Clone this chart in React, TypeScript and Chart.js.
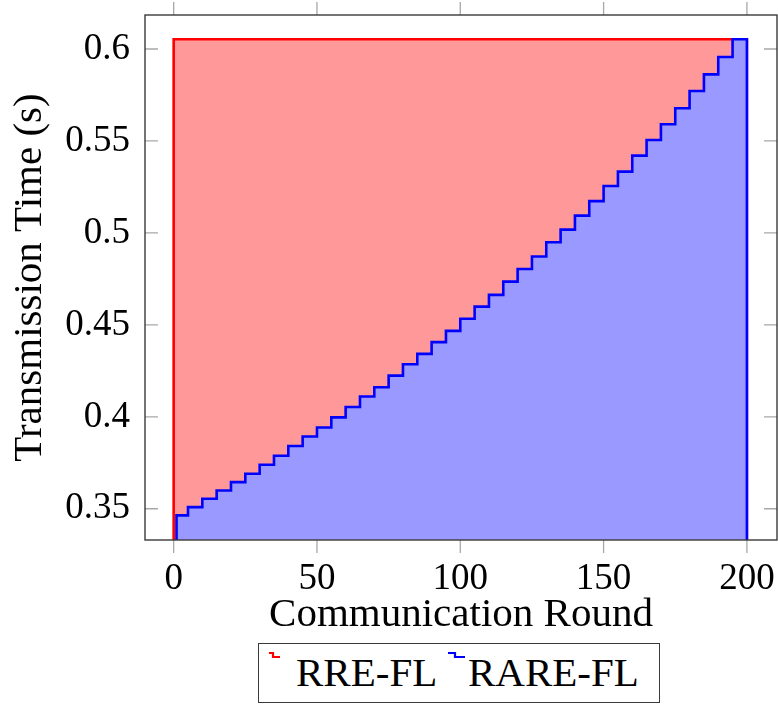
import React, { useEffect, useRef } from "react";
import { Chart, registerables } from "chart.js";

Chart.register(...registerables);

const FONT = "'Liberation Serif', 'DejaVu Serif', serif";

const X_MIN = -10;
const X_MAX = 210.5;
const Y_MIN = 0.333;
const Y_MAX = 0.6185;

const X_TICKS = [0, 50, 100, 150, 200];
const X_TICK_LABELS = ["0", "50", "100", "150", "200"];
const Y_TICKS = [0.35, 0.4, 0.45, 0.5, 0.55, 0.6];
const Y_TICK_LABELS = ["0.35", "0.4", "0.45", "0.5", "0.55", "0.6"];

const X_TITLE = "Communication Round";
const Y_TITLE = "Transmission Time (s)";

const SERIES_NAMES = ["RRE-FL", "RARE-FL"];

// RRE-FL: constant transmission time
const RRE_ROUNDS = [0, 200];
const RRE_TIME = [0.6053, 0.6053];

// RARE-FL: staircase (value holds from its round to the next)
const RARE_ROUNDS = [
  1, 5, 10, 15, 20, 25, 30, 35, 40, 45, 50, 55, 60, 65, 70, 75, 80, 85, 90, 95,
  100, 105, 110, 115, 120, 125, 130, 135, 140, 145, 150, 155, 160, 165, 170, 175,
  180, 185, 190, 195, 200,
];
const RARE_TIME = [
  0.3464, 0.3509, 0.3554, 0.3599, 0.3645, 0.369, 0.3739, 0.3788, 0.3841, 0.3893,
  0.3942, 0.3997, 0.4053, 0.411, 0.4161, 0.4224, 0.4286, 0.4342, 0.4406, 0.4467,
  0.4533, 0.4599, 0.4663, 0.4735, 0.4804, 0.4872, 0.4949, 0.5018, 0.5094, 0.5173,
  0.5255, 0.5333, 0.542, 0.5505, 0.5591, 0.5678, 0.5772, 0.5862, 0.5957, 0.6053,
  0.6053,
];

const RED = "#ff0000";
const RED_FILL = "rgb(255,153,153)";
const BLUE = "#0000ff";
const BLUE_FILL = "rgb(153,153,255)";

// outline closed down to the axis floor at both ends (x stays monotonic)
function closedSteps(rounds: number[], times: number[]) {
  const first = rounds[0];
  const last = rounds[rounds.length - 1];
  return [
    { x: first, y: Y_MIN },
    ...rounds.map((r, i) => ({ x: r, y: times[i] })),
    { x: last, y: Y_MIN },
  ];
}

const framePlugin = {
  id: "frameTicks",
  afterDatasetsDraw(chart: any) {
    const { ctx, chartArea, scales } = chart;
    const { left, right, top, bottom } = chartArea;
    const xs = scales.x;
    const ys = scales.y;
    const L = 13;
    ctx.save();
    ctx.strokeStyle = "#a8a8a8";
    ctx.lineWidth = 1.3;
    ctx.beginPath();
    X_TICKS.forEach((v) => {
      const px = xs.getPixelForValue(v);
      ctx.moveTo(px, top - L);
      ctx.lineTo(px, top);
      ctx.moveTo(px, bottom);
      ctx.lineTo(px, bottom + L);
    });
    Y_TICKS.forEach((v) => {
      const py = ys.getPixelForValue(v);
      ctx.moveTo(left, py);
      ctx.lineTo(left + L, py);
      ctx.moveTo(right - L, py);
      ctx.lineTo(right, py);
    });
    ctx.stroke();
    ctx.strokeStyle = "#3a3a3a";
    ctx.lineWidth = 1.4;
    ctx.strokeRect(left, top, right - left, bottom - top);
    ctx.restore();
  },
};

function StepIcon({ color, left, width }: { color: string; left: number; width: number }) {
  const mid = Math.round(width * 0.45);
  return (
    <svg
      width={width + 2}
      height={8}
      style={{ position: "absolute", left: left - 1, top: 651, overflow: "visible" }}
    >
      <polyline
        points={`1,2 ${mid},2 ${mid},6 ${width + 1},6`}
        fill="none"
        stroke={color}
        strokeWidth={2.2}
      />
    </svg>
  );
}

export default function App() {
  const canvasRef = useRef<HTMLCanvasElement | null>(null);

  useEffect(() => {
    const canvas = canvasRef.current;
    if (!canvas) return;
    const chart = new Chart(canvas, {
      type: "line",
      data: {
        datasets: [
          {
            label: SERIES_NAMES[0],
            data: closedSteps(RRE_ROUNDS, RRE_TIME),
            borderColor: RED,
            backgroundColor: RED_FILL,
            borderWidth: 2.6,
            fill: "start",
            stepped: true,
            pointRadius: 0,
            order: 2,
          },
          {
            label: SERIES_NAMES[1],
            data: closedSteps(RARE_ROUNDS, RARE_TIME),
            borderColor: BLUE,
            backgroundColor: BLUE_FILL,
            borderWidth: 2.6,
            fill: "start",
            stepped: true,
            pointRadius: 0,
            order: 1,
          },
        ],
      },
      options: {
        animation: false,
        responsive: false,
        maintainAspectRatio: false,
        devicePixelRatio: 1,
        layout: { padding: { left: 0, right: 1, top: 15, bottom: 0 } },
        plugins: {
          legend: { display: false },
          tooltip: { enabled: false },
          filler: { propagate: false },
        },
        elements: { point: { radius: 0 }, line: { tension: 0 } },
        scales: {
          x: {
            type: "linear",
            min: X_MIN,
            max: X_MAX,
            grid: { display: false, drawTicks: false },
            border: { display: false },
            afterBuildTicks: (s: any) => {
              s.ticks = X_TICKS.map((v) => ({ value: v }));
            },
            afterFit: (s: any) => {
              s.height = 164;
              s.paddingLeft = 0;
              s.paddingRight = 0;
              s.paddingTop = 0;
              s.paddingBottom = 0;
            },
            ticks: {
              color: "#000",
              font: { family: FONT, size: 37 },
              padding: 17,
              maxRotation: 0,
              autoSkip: false,
              callback: (v: any) => {
                const i = X_TICKS.indexOf(Number(v));
                return i >= 0 ? X_TICK_LABELS[i] : "";
              },
            },
            title: {
              display: true,
              text: X_TITLE,
              color: "#000",
              font: { family: FONT, size: 41 },
              padding: { top: 0, bottom: 64 },
            },
          },
          y: {
            type: "linear",
            min: Y_MIN,
            max: Y_MAX,
            grid: { display: false, drawTicks: false },
            border: { display: false },
            afterBuildTicks: (s: any) => {
              s.ticks = Y_TICKS.map((v) => ({ value: v }));
            },
            afterFit: (s: any) => {
              s.width = 145;
              s.paddingLeft = 0;
              s.paddingRight = 0;
              s.paddingTop = 0;
              s.paddingBottom = 0;
            },
            ticks: {
              color: "#000",
              font: { family: FONT, size: 37 },
              padding: 15,
              autoSkip: false,
              callback: (v: any) => {
                const i = Y_TICKS.findIndex((t) => Math.abs(t - Number(v)) < 1e-9);
                return i >= 0 ? Y_TICK_LABELS[i] : "";
              },
            },
            title: {
              display: true,
              text: Y_TITLE,
              color: "#000",
              font: { family: FONT, size: 41 },
              padding: { top: 6, bottom: 0 },
            },
          },
        },
      },
      plugins: [framePlugin],
    } as any);
    return () => chart.destroy();
  }, []);

  const textStyle: React.CSSProperties = {
    position: "absolute",
    top: 652,
    fontFamily: FONT,
    fontSize: 41,
    lineHeight: 1,
    color: "#000",
    whiteSpace: "nowrap",
  };

  return (
    <div
      style={{
        position: "absolute",
        left: 0,
        top: 0,
        width: 778,
        height: 704,
        background: "#fff",
        overflow: "hidden",
      }}
    >
      <canvas
        ref={canvasRef}
        width={778}
        height={704}
        style={{ display: "block", width: 778, height: 704 }}
      />
      <div
        style={{
          position: "absolute",
          left: 258,
          top: 643,
          width: 402,
          height: 60,
          boxSizing: "border-box",
          border: "1.4px solid #3a3a3a",
          background: "#fff",
        }}
      />
      <StepIcon color={RED} left={269} width={11} />
      <span style={{ ...textStyle, left: 296 }}>{SERIES_NAMES[0]}</span>
      <StepIcon color={BLUE} left={448} width={17} />
      <span style={{ ...textStyle, left: 468 }}>{SERIES_NAMES[1]}</span>
    </div>
  );
}
